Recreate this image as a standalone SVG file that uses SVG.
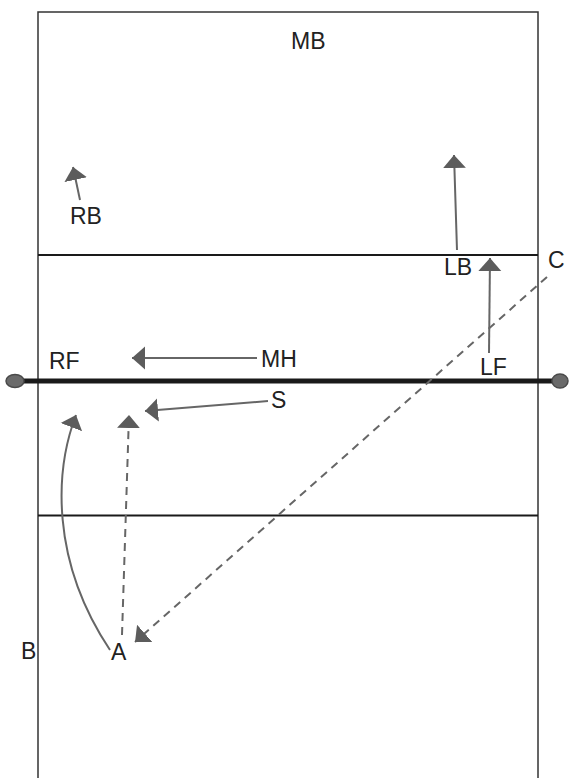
<svg xmlns="http://www.w3.org/2000/svg" width="569" height="778" viewBox="0 0 569 778">
  <style>
    .court { fill: none; stroke: #333; stroke-width: 1.5; }
    .line { stroke: #1a1a1a; stroke-width: 2; }
    .net { stroke: #1a1a1a; stroke-width: 5; }
    .post { fill: #6a6a6a; stroke: #4a4a4a; stroke-width: 1.5; }
    .lbl { font-family: "Liberation Sans", Arial, sans-serif; font-size: 23px; fill: #222; }
    .arr { fill: none; stroke: #666; stroke-width: 2; marker-end: url(#head); }
    .dash { stroke-dasharray: 8 6; }
  </style>
  <defs>
    <marker id="head" markerUnits="userSpaceOnUse" markerWidth="14" markerHeight="24" viewBox="0 -12 14 24" refX="13" refY="0" orient="auto">
      <path d="M0,-11.5 L13,0 L0,11.5 Z" fill="#5c5c5c"/>
    </marker>
  </defs>
  <rect width="569" height="778" fill="#fff"/>
  <g id="court">
    <rect class="court" x="38" y="12" width="500" height="800"/>
    <line class="line" x1="38" y1="255" x2="538" y2="255"/>
    <line class="line" x1="38" y1="515.5" x2="538" y2="515.5"/>
    <line class="net" x1="15" y1="381" x2="560" y2="381"/>
    <ellipse class="post" cx="15" cy="381" rx="9" ry="6.5"/>
    <ellipse class="post" cx="560" cy="381" rx="8" ry="7"/>
  </g>
  <g id="connectors">
    <path class="arr" d="M80,200 L73,167"/>
    <path class="arr" d="M457,250 L454,155"/>
    <path class="arr" d="M489,353 L490,258"/>
    <path class="arr" d="M257,358 L132,358"/>
    <path class="arr" d="M268,401 L145,411"/>
    <path class="arr" d="M110,650 C50,560 55,470 76,415"/>
    <path class="arr dash" d="M122,635 L129,415"/>
    <path class="arr dash" d="M547,277 L135,642"/>
  </g>
  <g id="MB"><text class="lbl" x="291" y="49">MB</text></g>
  <g id="RB"><text class="lbl" x="70" y="224">RB</text></g>
  <g id="LB"><text class="lbl" x="444" y="275">LB</text></g>
  <g id="C"><text class="lbl" x="548" y="268">C</text></g>
  <g id="LF"><text class="lbl" x="480" y="375">LF</text></g>
  <g id="RF"><text class="lbl" x="49" y="369">RF</text></g>
  <g id="MH"><text class="lbl" x="261" y="367">MH</text></g>
  <g id="S"><text class="lbl" x="271" y="408">S</text></g>
  <g id="B"><text class="lbl" x="21" y="659">B</text></g>
  <g id="A"><text class="lbl" x="111" y="660">A</text></g>
</svg>
